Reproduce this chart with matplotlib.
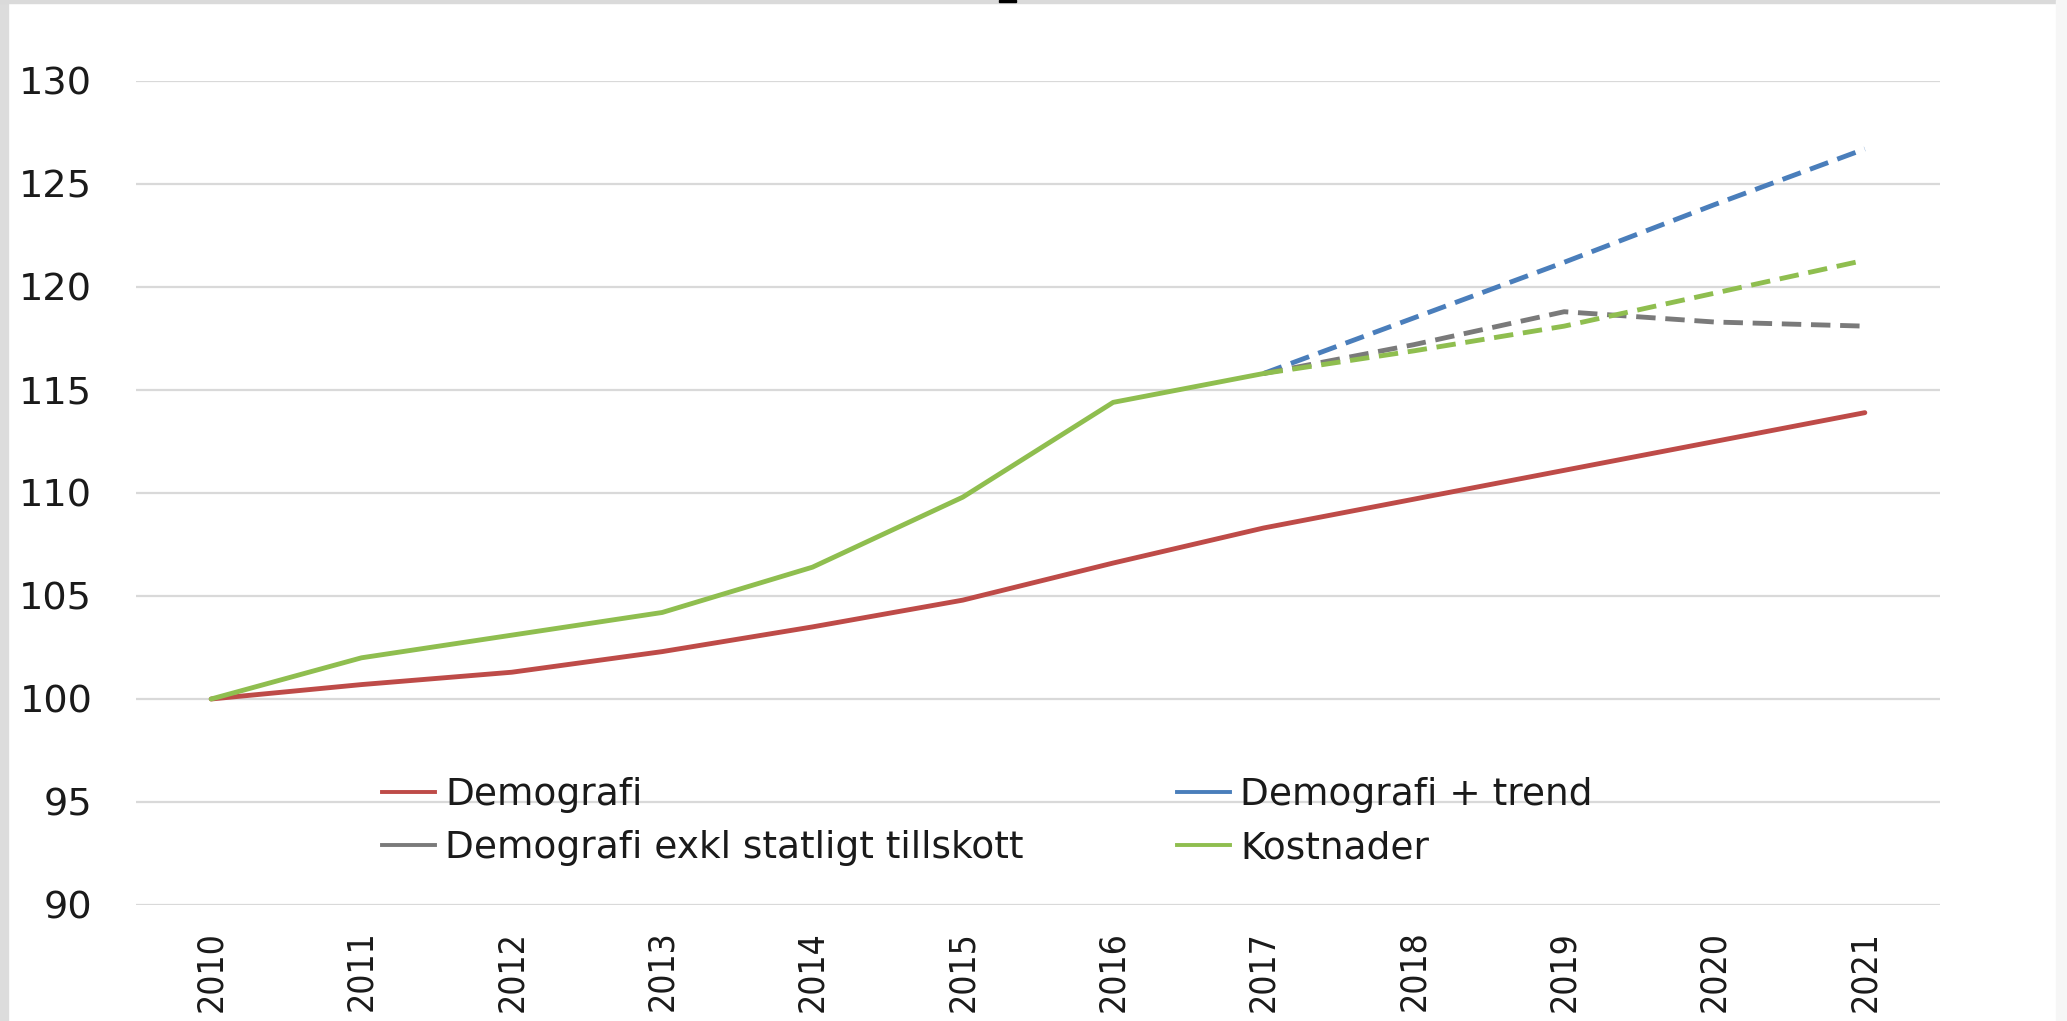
import numpy as np
import matplotlib
matplotlib.use("Agg")
import matplotlib.pyplot as plt
from matplotlib.lines import Line2D
from matplotlib.patches import Rectangle

# ---------------- data ----------------
years = [2010, 2011, 2012, 2013, 2014, 2015, 2016, 2017, 2018, 2019, 2020, 2021]
demografi = [100.0, 100.7, 101.3, 102.3, 103.5, 104.8, 106.6, 108.3, 109.7, 111.1, 112.5, 113.9]
kostnader = [100.0, 102.0, 103.1, 104.2, 106.4, 109.8, 114.4, 115.8, 116.9, 118.1, 119.7, 121.3]
demografi_trend = [np.nan] * 7 + [115.8, 118.5, 121.2, 124.0, 126.7]
demografi_exkl = [np.nan] * 7 + [115.8, 117.2, 118.8, 118.3, 118.1]
last_actual = 2017
labels = ["Demografi", "Demografi + trend", "Demografi exkl statligt tillskott", "Kostnader"]
y_ticks = [90, 95, 100, 105, 110, 115, 120, 125, 130]

c_red = "#BE4B48"
c_blue = "#4A7EBB"
c_gray = "#7A7A7A"
c_green = "#8FBE4F"

W, H = 2067, 1021
fig = plt.figure(figsize=(W / 100, H / 100), dpi=100)
fig.patch.set_facecolor("white")

ax = fig.add_axes([136 / W, 1 - 905 / H, (1940 - 136) / W, (905 - 81) / H])
x = np.arange(len(years))
cut = years.index(last_actual)

lw = 3.5
dash = (4, 2.0)

ax.plot(x, demografi, color=c_red, lw=lw, solid_capstyle="round", zorder=3)
ax.plot(x, demografi_trend, color=c_blue, lw=lw, dashes=dash, zorder=3)
ax.plot(x, demografi_exkl, color=c_gray, lw=lw, dashes=dash, zorder=3)
ax.plot(x[:cut + 1], kostnader[:cut + 1], color=c_green, lw=lw, solid_capstyle="round", zorder=4)
ax.plot(x[cut:], kostnader[cut:], color=c_green, lw=lw, dashes=dash, zorder=4)

ax.set_xlim(-0.5, len(years) - 0.5)
ax.set_ylim(90, 130)
ax.set_yticks(y_ticks)
ax.set_xticks(x)
ax.set_xticklabels([str(y) for y in years], rotation=90, ha="center", va="top",
                   family="DejaVu Sans", fontstretch="condensed",
                   fontsize=25.5, color="#1a1a1a")
ax.set_yticklabels([str(v) for v in y_ticks], family="DejaVu Sans", fontsize=27.5, color="#1a1a1a")
ax.tick_params(axis="x", length=0, pad=18.5)
ax.tick_params(axis="y", length=0, pad=31.5)
ax.grid(axis="y", color="#d9d9d9", lw=1.6, zorder=0)
for s in ax.spines.values():
    s.set_visible(False)

# legend in two columns placed at the reference positions
fs = 27
h_red = Line2D([], [], color=c_red, lw=2.8)
h_blue = Line2D([], [], color=c_blue, lw=2.8)
h_gray = Line2D([], [], color=c_gray, lw=2.8)
h_green = Line2D([], [], color=c_green, lw=2.8)
common = dict(loc="upper left", frameon=False, borderpad=0, borderaxespad=0,
              handlelength=1.41, handletextpad=0.27, labelspacing=0.46,
              prop={"family": "DejaVu Sans", "size": fs}, bbox_transform=fig.transFigure)
leg1 = ax.legend([h_red, h_gray], [labels[0], labels[2]],
                 bbox_to_anchor=(382 / W, 1 - 777 / H), **common)
ax.add_artist(leg1)
leg2 = ax.legend([h_blue, h_green], [labels[1], labels[3]],
                 bbox_to_anchor=(1177 / W, 1 - 777 / H), **common)
for lg in (leg1, leg2):
    for t in lg.get_texts():
        t.set_color("#1a1a1a")

# screenshot frame
fig.patches.append(Rectangle((0, 0), 8 / W, 1, transform=fig.transFigure,
                             color="#dcdcdc", zorder=10))
fig.patches.append(Rectangle((0, 1 - 3 / H), 1, 3 / H, transform=fig.transFigure,
                             color="#dadada", zorder=10))
fig.patches.append(Rectangle((2056 / W, 0), 11 / W, 1, transform=fig.transFigure,
                             color="#f6f6f6", zorder=10))
fig.patches.append(Rectangle((999 / W, 1 - 2 / H), 17 / W, 2 / H, transform=fig.transFigure,
                             color="#000000", zorder=11))

fig.savefig("out.png", dpi=100)
